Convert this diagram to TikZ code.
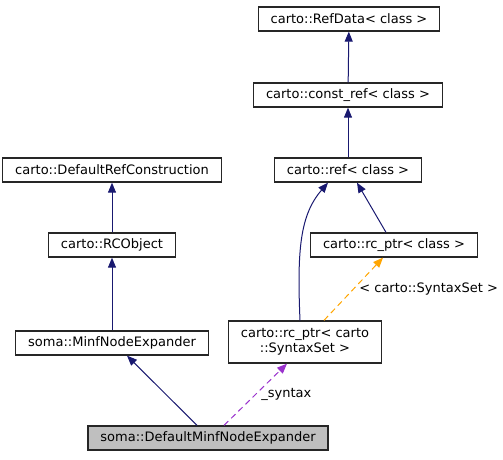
\documentclass[tikz,border=0pt]{standalone}
\usepackage{fontspec}
\setmainfont{DejaVu Sans}
\usetikzlibrary{arrows.meta}
\definecolor{edgeblue}{HTML}{191970}
\definecolor{edgeorange}{HTML}{FFA500}
\definecolor{edgepurple}{HTML}{9A32CD}

\begin{document}
\begin{tikzpicture}[x=1pt, y=-1pt]
        \tikzstyle{every node}=[font=\fontsize{13}{15}\selectfont]
        \tikzstyle{cls}=[draw=black!85, line width=1.3pt, fill=white, rectangle, minimum height=24pt, inner xsep=12.5pt, inner ysep=2pt]
        \tikzstyle{inh}=[draw=edgeblue, line width=1pt, -{Triangle[length=10pt,width=8pt,fill=edgeblue]}]
        \tikzstyle{tmpl}=[draw=edgeorange, line width=1pt, dash pattern=on 6pt off 4pt, -{Triangle[length=10pt,width=8pt,fill=edgeorange]}]
        \tikzstyle{use}=[draw=edgepurple, line width=1pt, dash pattern=on 6pt off 4pt, -{Triangle[length=10pt,width=8pt,fill=edgepurple]}]
        \useasboundingbox (0,0) rectangle (503,459);
        \node [cls] (refdata) at (349,19) {carto::RefData< class >};
        \node [cls] (constref) at (348,95) {carto::const\_ref< class >};
        \node [cls] (ref) at (348,170) {carto::ref< class >};
        \node [cls] (defrefcons) at (112,170) {carto::DefaultRefConstruction};
        \node [cls] (rcobject) at (112,245) {carto::RCObject};
        \node [cls] (rcptr) at (394,245) {carto::rc\_ptr< class >};
        \node [cls, align=center, minimum height=42pt, inner ysep=3pt] (rcptrsyn) at (305,342) {carto::rc\_ptr< carto\\::SyntaxSet >};
        \node [cls] (minfexp) at (112,343) {soma::MinfNodeExpander};
        \node [cls, fill=black!25] (defminfexp) at (208,438) {soma::DefaultMinfNodeExpander};
        \draw [inh] (constref) -- (refdata);
        \draw [inh] (ref) -- (constref);
        \draw [inh] (rcobject) -- (defrefcons);
        \draw [inh] (minfexp) -- (rcobject);
        \draw [inh] ([xshift=-8pt]rcptr.north) -- ([xshift=9pt]ref.south);
        \draw [inh] ([xshift=-5pt]rcptrsyn.north) .. controls (297,250) and (300,215) .. ([xshift=-20pt]ref.south);
        \draw [tmpl] ([xshift=19pt]rcptrsyn.north) -- node [right, xshift=2pt] (tmplabel) {< carto::SyntaxSet >} ([xshift=-11pt]rcptr.south);
        \draw [inh] ([xshift=-11pt]defminfexp.north) -- ([xshift=15pt]minfexp.south);
        \draw [use] ([xshift=16pt]defminfexp.north) -- node [right, xshift=2pt] (synlabel) {\_syntax} ([xshift=-18pt]rcptrsyn.south);
    \end{tikzpicture}
\end{document}
